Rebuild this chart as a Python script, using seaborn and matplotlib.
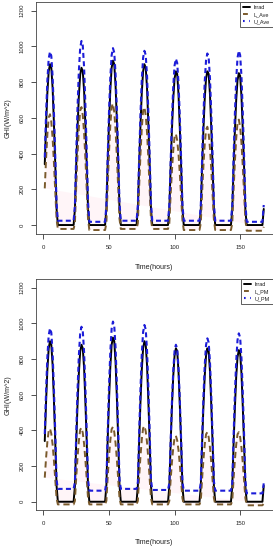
import matplotlib
matplotlib.use("Agg")
import matplotlib.pyplot as plt
import seaborn as sns
import pandas as pd
from matplotlib.lines import Line2D

# ---------------- data (hourly, hours 1..168) ----------------
hours = list(range(1, 169))

irrad = [
    340, 560, 740, 860, 900, 880, 765, 565, 340, 90, 0, 0, 0, 0, 0, 0, 0, 0, 0, 0, 0, 0, 0, 88,
    335, 545, 720, 840, 880, 860, 750, 555, 335, 88, 0, 0, 0, 0, 0, 0, 0, 0, 0, 0, 0, 0, 0, 92,
    350, 570, 755, 880, 920, 900, 780, 580, 350, 92, 0, 0, 0, 0, 0, 0, 0, 0, 0, 0, 0, 0, 0, 90,
    340, 560, 740, 860, 900, 880, 765, 565, 340, 90, 0, 0, 0, 0, 0, 0, 0, 0, 0, 0, 0, 0, 0, 86,
    325, 535, 705, 820, 860, 845, 730, 540, 325, 86, 0, 0, 0, 0, 0, 0, 0, 0, 0, 0, 0, 0, 0, 86,
    325, 535, 705, 820, 860, 845, 730, 540, 325, 86, 0, 0, 0, 0, 0, 0, 0, 0, 0, 0, 0, 0, 0, 85,
    325, 525, 700, 810, 850, 835, 720, 535, 325, 85, 0, 0, 0, 0, 0, 0, 0, 0, 0, 0, 0, 0, 0, 90,
]

l_ave = [
    205, 372, 508, 601, 620, 577, 484, 347, 186, 31, -22, -22, -22, -22, -22, -22, -22, -22, -22, -22, -22, -22, -22, 10,
    218, 396, 541, 640, 660, 614, 515, 370, 198, 33, -28, -28, -28, -28, -28, -28, -28, -28, -28, -28, -28, -28, -28, 10,
    224, 408, 558, 660, 680, 632, 530, 381, 204, 34, -22, -22, -22, -22, -22, -22, -22, -22, -22, -22, -22, -22, -22, 10,
    218, 396, 541, 640, 660, 614, 515, 370, 198, 33, -22, -22, -22, -22, -22, -22, -22, -22, -22, -22, -22, -22, -22, 10,
    168, 306, 418, 495, 510, 474, 398, 286, 153, 26, -28, -28, -28, -28, -28, -28, -28, -28, -28, -28, -28, -28, -28, 10,
    182, 330, 451, 534, 550, 512, 429, 308, 165, 28, -28, -28, -28, -28, -28, -28, -28, -28, -28, -28, -28, -28, -28, 10,
    195, 354, 484, 572, 590, 549, 460, 330, 177, 30, -32, -32, -32, -32, -32, -32, -32, -32, -32, -32, -32, -32, -32, -10,
]

u_ave = [
    378, 621, 810, 931, 970, 946, 829, 630, 388, 121, 24, 24, 24, 24, 24, 24, 24, 24, 24, 24, 24, 24, 24, 110,
    402, 659, 860, 989, 1030, 1004, 881, 670, 412, 129, 18, 18, 18, 18, 18, 18, 18, 18, 18, 18, 18, 18, 18, 110,
    386, 634, 827, 950, 990, 965, 846, 644, 396, 124, 24, 24, 24, 24, 24, 24, 24, 24, 24, 24, 24, 24, 24, 110,
    380, 624, 814, 936, 975, 951, 834, 634, 390, 122, 24, 24, 24, 24, 24, 24, 24, 24, 24, 24, 24, 24, 24, 110,
    363, 595, 777, 893, 930, 907, 795, 605, 372, 116, 24, 24, 24, 24, 24, 24, 24, 24, 24, 24, 24, 24, 24, 110,
    374, 614, 802, 922, 960, 936, 821, 624, 384, 120, 24, 24, 24, 24, 24, 24, 24, 24, 24, 24, 24, 24, 24, 110,
    380, 624, 814, 936, 975, 951, 834, 634, 390, 122, 18, 18, 18, 18, 18, 18, 18, 18, 18, 18, 18, 18, 18, 112,
]

l_pm = [
    135, 246, 336, 398, 410, 381, 320, 230, 123, 20, -15, -15, -15, -15, -15, -15, -15, -15, -15, -15, -15, -15, -15, 5,
    137, 249, 340, 403, 415, 386, 324, 232, 125, 21, -15, -15, -15, -15, -15, -15, -15, -15, -15, -15, -15, -15, -15, 5,
    139, 252, 344, 407, 420, 391, 328, 235, 126, 21, -15, -15, -15, -15, -15, -15, -15, -15, -15, -15, -15, -15, -15, 5,
    140, 255, 349, 412, 425, 395, 332, 238, 128, 21, -15, -15, -15, -15, -15, -15, -15, -15, -15, -15, -15, -15, -15, 5,
    122, 222, 303, 359, 370, 344, 289, 207, 111, 19, -15, -15, -15, -15, -15, -15, -15, -15, -15, -15, -15, -15, -15, 5,
    129, 234, 320, 378, 390, 363, 304, 218, 117, 20, -15, -15, -15, -15, -15, -15, -15, -15, -15, -15, -15, -15, -15, 5,
    129, 234, 320, 378, 390, 363, 304, 218, 117, 20, -20, -20, -20, -20, -20, -20, -20, -20, -20, -20, -20, -20, -20, -10,
]

u_pm = [
    379, 622, 812, 933, 972, 948, 831, 632, 389, 122, 72, 72, 72, 72, 72, 72, 72, 72, 72, 72, 72, 72, 72, 110,
    383, 628, 819, 942, 981, 956, 839, 638, 392, 123, 62, 62, 62, 62, 62, 62, 62, 62, 62, 62, 62, 62, 62, 110,
    394, 646, 843, 970, 1010, 985, 864, 657, 404, 126, 72, 72, 72, 72, 72, 72, 72, 72, 72, 72, 72, 72, 72, 110,
    386, 634, 827, 951, 991, 966, 847, 644, 396, 124, 66, 66, 66, 66, 66, 66, 66, 66, 66, 66, 66, 66, 66, 105,
    343, 563, 735, 845, 880, 858, 752, 572, 352, 110, 62, 62, 62, 62, 62, 62, 62, 62, 62, 62, 62, 62, 62, 105,
    357, 586, 765, 879, 916, 893, 783, 595, 366, 115, 62, 62, 62, 62, 62, 62, 62, 62, 62, 62, 62, 62, 62, 105,
    368, 604, 788, 906, 944, 920, 807, 614, 378, 118, 47, 47, 47, 47, 47, 47, 47, 47, 47, 47, 47, 47, 47, 103,
]

x_ticks = [0, 50, 100, 150]
y_ticks = [0, 200, 400, 600, 800, 1000, 1200]
x_label = "Time(hours)"
y_label = "GHI(W/m^2)"
panels = [
    (l_ave, u_ave, ["Irrad", "L_Ave", "U_Ave"]),
    (l_pm, u_pm, ["Irrad", "L_PM", "U_PM"]),
]

# ---------------- styling ----------------
sns.set_style("white")
plt.rcParams["font.family"] = ["Liberation Sans", "DejaVu Sans"]

BROWN = "#7a5a2c"
BLUE = "#1c1cd8"
PINK = "#fff5f8"
BROWN_DASH = (0, (3.2, 2.0))
BLUE_DASH = (0, (2.4, 1.6))

W, H = 273, 550
fig = plt.figure(figsize=(W / 100, H / 100), dpi=100)
ax_rects = [
    [36 / W, 1 - 233.6 / H, (272.5 - 36) / W, 231.6 / H],
    [36 / W, 1 - 510.3 / H, (272.5 - 36) / W, 231.2 / H],
]
xlab_y = [-0.131, -0.122]

for i, (lower, upper, names) in enumerate(panels):
    ax = fig.add_axes(ax_rects[i])
    df = pd.DataFrame({"hour": hours, "Irrad": irrad, "L": lower, "U": upper})

    ax.fill(df["hour"], df["L"], color=PINK, lw=0, zorder=0)
    sns.lineplot(data=df, x="hour", y="Irrad", ax=ax, color="black", lw=1.4, zorder=2)
    sns.lineplot(data=df, x="hour", y="L", ax=ax, color=BROWN, lw=1.4,
                 linestyle=BROWN_DASH, zorder=3)
    sns.lineplot(data=df, x="hour", y="U", ax=ax, color=BLUE, lw=1.5,
                 linestyle=BLUE_DASH, zorder=4)

    ax.set_xlim(-5.68, 174.68)
    ax.set_ylim(-48, 1248)
    ax.set_xticks(x_ticks)
    ax.set_yticks(y_ticks)
    ax.set_xticklabels([str(t) for t in x_ticks])
    ax.set_yticklabels([str(t) for t in y_ticks], rotation=90, va="center")
    ax.tick_params(axis="both", direction="out", length=3.6, width=0.6,
                   labelsize=4.3, pad=4.3, color="#333333", labelcolor="#222222",
                   bottom=True, left=True)
    for sp in ax.spines.values():
        sp.set_visible(True)
        sp.set_color("#444444")
        sp.set_linewidth(0.6)

    ax.set_xlabel(x_label, fontsize=5.1, color="#222222")
    ax.set_ylabel(y_label, fontsize=5.1, color="#222222")
    ax.xaxis.set_label_coords(0.5, xlab_y[i])
    ax.yaxis.set_label_coords(-0.104, 0.5)

    handles = [
        Line2D([], [], color="black", lw=1.4),
        Line2D([], [], color=BROWN, lw=1.4, linestyle=(0, (2.5, 3))),
        Line2D([], [], color=BLUE, lw=1.5, linestyle=(0, (0.8, 2.2))),
    ]
    leg = ax.legend(handles, names, loc="upper right", bbox_to_anchor=(1.0, 1.0),
                    borderaxespad=0.0, fontsize=4.0, frameon=True, fancybox=False,
                    framealpha=1.0, edgecolor="#444444", handlelength=1.3,
                    handletextpad=0.6, labelspacing=0.35, borderpad=0.55)
    leg.get_frame().set_linewidth(0.6)
    for t in leg.get_texts():
        t.set_color("#222222")

fig.savefig("out.png", dpi=100, facecolor="white")
